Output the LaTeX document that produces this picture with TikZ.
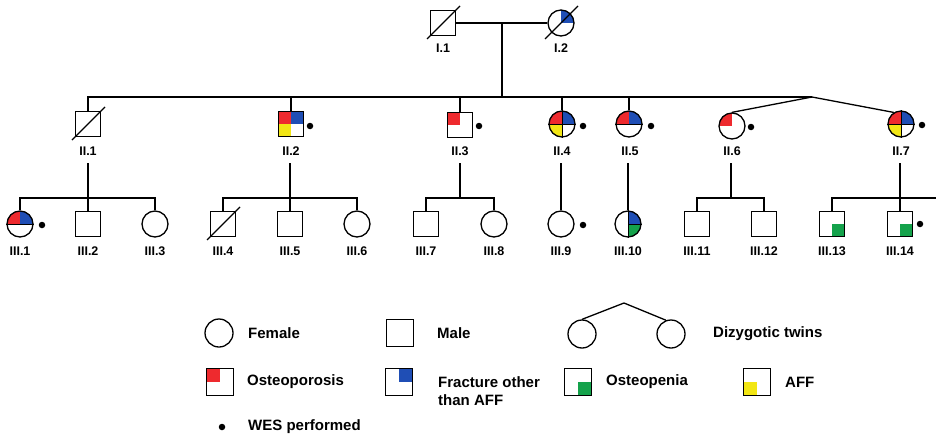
\documentclass[tikz,border=0pt]{standalone}
\usepackage{fontspec}
\setmainfont{Liberation Sans}
\definecolor{qred}{HTML}{EE2A2E}
\definecolor{qblue}{HTML}{1F4EB5}
\definecolor{qyel}{HTML}{F2E614}
\definecolor{qgreen}{HTML}{14A24B}
\tikzset{
  ln/.style={line width=1.3pt},
  fem/.style={circle, draw, line width=1.3pt, minimum size=26pt, inner sep=0pt},
  mal/.style={rectangle, draw, line width=1.3pt, minimum size=25pt, inner sep=0pt},
  lfem/.style={fem, minimum size=28pt},
  lmal/.style={mal, minimum size=27pt},
  quads/.style n args={4}{path picture={
     \fill[#1] (path picture bounding box.center) rectangle (path picture bounding box.north west);
     \fill[#2] (path picture bounding box.center) rectangle (path picture bounding box.north east);
     \fill[#3] (path picture bounding box.center) rectangle (path picture bounding box.south west);
     \fill[#4] (path picture bounding box.center) rectangle (path picture bounding box.south east);}},
  lbl/.style={font=\bfseries\fontsize{12.5}{13}\selectfont, inner sep=0pt},
  lgd/.style={font=\bfseries\fontsize{15}{18}\selectfont, inner sep=0pt, anchor=west, align=left},
  wes/.style={circle, fill=black, inner sep=0pt, minimum size=6.5pt},
  divl/.style={line width=0.9pt},
  slash/.style={line width=1.3pt}
}
\begin{document}
\begin{tikzpicture}[x=1pt,y=-1pt]
\useasboundingbox[fill=white] (0,0) rectangle (936,436);

% ---------- Generation I ----------
\node[mal] (I1) at (443,23) {};
\node[fem, quads={white}{qblue}{white}{white}] (I2) at (561,23) {};
\draw[slash] (I1.center) ++(-16,16) -- ++(33,-33);
\draw[slash] (I2.center) ++(-16,16) -- ++(33,-33);
\node[lbl] (I1l) at (443,48) {I.1};
\node[lbl] (I2l) at (561,48) {I.2};
\coordinate (m1) at (502,23);
\coordinate (s1) at (502,97);
\draw[ln] (I1.east) -- (I2.west);
\draw[ln] (m1) -- (s1);

% ---------- Generation II ----------
\node[mal] (II1) at (88,124) {};
\node[mal, quads={qred}{qblue}{qyel}{white}] (II2) at (291,124) {};
\node[mal, quads={qred}{white}{white}{white}] (II3) at (460,125) {};
\node[fem, quads={qred}{qblue}{qyel}{white}] (II4) at (562,124) {};
\node[fem, quads={qred}{qblue}{white}{white}] (II5) at (629,124) {};
\node[fem, quads={qred}{white}{white}{white}] (II6) at (732,126) {};
\node[fem, quads={qred}{qblue}{qyel}{white}] (II7) at (901,124) {};
\draw[slash] (II1.center) ++(-16,16) -- ++(33,-33);
\draw[divl] (II4.west) -- (II4.east) (II4.north) -- (II4.south);
\draw[divl] (II5.west) -- (II5.east);
\draw[divl] (II7.west) -- (II7.east) (II7.north) -- (II7.south);

\node[wes] (w22) at (310,126) {};
\node[wes] (w23) at (479,126) {};
\node[wes] (w24) at (583,126) {};
\node[wes] (w25) at (651,126) {};
\node[wes] (w26) at (751,127) {};
\node[wes] (w27) at (922,125) {};

\foreach \n/\t/\x in {II1/II.1/88, II2/II.2/291, II3/II.3/460, II4/II.4/562, II5/II.5/630, II6/II.6/732, II7/II.7/901}
  \node[lbl] (\n l) at (\x,151) {\t};

\coordinate (sib2L) at (87,97);
\coordinate (sib2R) at (812,97);
\draw[ln] (sib2L) -- (sib2R);
\draw[ln] (II1.north) -- (II1.north |- sib2L);
\draw[ln] (II2.north) -- (II2.north |- sib2L);
\draw[ln] (II3.north) -- (II3.north |- sib2L);
\draw[ln] (II4.north) -- (II4.north |- sib2L);
\draw[ln] (II5.north) -- (II5.north |- sib2L);
\draw[ln] (sib2R) -- (II6.north);
\draw[ln] (sib2R) -- (II7.122);

% ---------- Generation III ----------
\node[fem, quads={qred}{qblue}{white}{white}] (III1) at (20,224) {};
\node[mal] (III2) at (88,224) {};
\node[fem] (III3) at (155,224) {};
\node[mal] (III4) at (223,224) {};
\node[mal] (III5) at (290,224) {};
\node[fem] (III6) at (357,224) {};
\node[mal] (III7) at (426,224) {};
\node[fem] (III8) at (494,224) {};
\node[fem] (III9) at (561,224) {};
\node[fem, quads={white}{qblue}{white}{qgreen}] (III10) at (628,224) {};
\node[mal] (III11) at (697,224) {};
\node[mal] (III12) at (764,224) {};
\node[mal, quads={white}{white}{white}{qgreen}] (III13) at (832,224) {};
\node[mal, quads={white}{white}{white}{qgreen}] (III14) at (900,224) {};
\draw[slash] (III4.center) ++(-16,16) -- ++(33,-33);
\draw[divl] (III1.west) -- (III1.east);
\draw[divl] (III10.north) -- (III10.south) (III10.center) -- (III10.east);

\node[wes] (w31) at (42,225) {};
\node[wes] (w39) at (583,225) {};
\node[wes] (w314) at (920,224) {};

\foreach \n/\t/\x in {III1/III.1/20, III2/III.2/88, III3/III.3/155, III4/III.4/223, III5/III.5/290, III6/III.6/357, III7/III.7/426, III8/III.8/494, III9/III.9/561, III10/III.10/628, III11/III.11/697, III12/III.12/764, III13/III.13/832, III14/III.14/900}
  \node[lbl] (\n l) at (\x,251) {\t};

% family of II.1
\coordinate (d1) at (88,163);
\coordinate (f1) at (88,198);
\draw[ln] (d1) -- (f1);
\draw[ln] (III1.north) |- (III3.north |- f1) -- (III3.north);
\draw[ln] (III2.north) -- (III2.north |- f1);
% family of II.2
\coordinate (d2) at (290,163);
\coordinate (f2) at (290,198);
\draw[ln] (d2) -- (f2);
\draw[ln] (III4.north) |- (III6.north |- f2) -- (III6.north);
\draw[ln] (III5.north) -- (III5.north |- f2);
% family of II.3
\coordinate (d3) at (460,163);
\coordinate (f3) at (460,198);
\draw[ln] (d3) -- (f3);
\draw[ln] (III7.north) |- (III8.north |- f3) -- (III8.north);
% II.4 -> III.9
\coordinate (d4) at (561,163);
\draw[ln] (d4) -- (III9.north);
% II.5 -> III.10
\coordinate (d5) at (628,163);
\draw[ln] (d5) -- (III10.north);
% family of II.6
\coordinate (d6) at (731,163);
\coordinate (f6) at (731,198);
\draw[ln] (d6) -- (f6);
\draw[ln] (III11.north) |- (III12.north |- f6) -- (III12.north);
% family of II.7
\coordinate (d7) at (900,163);
\coordinate (f7e) at (936,198);
\draw[ln] (d7) -- (III14.north);
\draw[ln] (III13.north) |- (f7e);

% ---------- Legend ----------
\node[lfem] (LF) at (219,333) {};
\node[lgd] (LFt) at (248,333) {Female};
\node[lmal] (LM) at (400,333) {};
\node[lgd] (LMt) at (437,333) {Male};
\node[lfem] (LT1) at (582,334) {};
\node[lfem] (LT2) at (671,334) {};
\coordinate (LTa) at (624,303);
\draw[ln] (LT1.north) -- (LTa) -- (LT2.110);
\node[lgd] (LTt) at (713,334) {Dizygotic twins};

\node[lmal, quads={qred}{white}{white}{white}] (LO) at (220,382) {};
\node[lgd] (LOt) at (247,382) {Osteoporosis};
\node[lmal, quads={white}{qblue}{white}{white}] (LFr) at (399,382) {};
\node[lgd] (LFrt) at (438,391) {Fracture other\\than AFF};
\node[lmal, quads={white}{white}{white}{qgreen}] (LOp) at (578,382) {};
\node[lgd] (LOpt) at (606,382) {Osteopenia};
\node[lmal, quads={white}{white}{qyel}{white}] (LA) at (757,382) {};
\node[lgd] (LAt) at (785,382) {AFF};

\node[wes] (LW) at (222,427) {};
\node[lgd] (LWt) at (248,427) {WES performed};
\end{tikzpicture}
\end{document}
